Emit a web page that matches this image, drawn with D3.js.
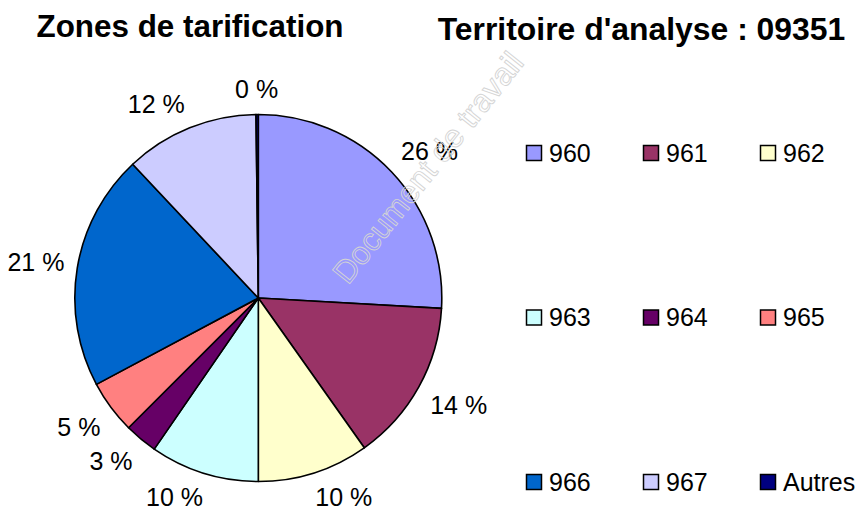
<!DOCTYPE html>
<html>
<head>
<meta charset="utf-8">
<script src="https://cdn.jsdelivr.net/npm/d3@7"></script>
<style>
    body { margin: 0; background: #fff; }
    svg { display: block; font-family: Arial, 'Liberation Sans', sans-serif; }
</style>
</head>
<body>
<script>

(function(){


// DATA

    const zones = ['960', '961', '962', '963', '964', '965', '966', '967', 'Autres'];
    const shares = [25.9, 14.3, 9.8, 9.6, 2.9, 4.7, 20.8, 11.8, 0.2];
    const colors = ['#9999ff', '#993366', '#ffffcc', '#ccffff', '#660066',
        '#ff8080', '#0066cc', '#ccccff', '#000080'];

    const titleLeft = 'Zones de tarification';
    const titleRight = "Territoire d'analyse : 09351";
    const watermark = 'Document de travail';


// LAYOUT

    const width = 860,
        height = 511,
        cx = 258.3,
        cy = 298,
        radius = 183.5,
        labelGap = 13;

    const svg = d3
        .select('body')
        .append('svg')
        .attr('width', width)
        .attr('height', height);


// TITLES

    svg.append('text')
        .attr('x', 190)
        .attr('y', 37)
        .attr('text-anchor', 'middle')
        .style('font-size', '31.4px')
        .style('font-weight', 'bold')
        .text(titleLeft);

    svg.append('text')
        .attr('x', 641.5)
        .attr('y', 40)
        .attr('text-anchor', 'middle')
        .style('font-size', '31.9px')
        .style('font-weight', 'bold')
        .text(titleRight);


// PIE

    const pie = d3.pie()
        .value(function(d){ return d; })
        .sort(null);

    const arcs = pie(shares);

    const arc = d3.arc()
        .innerRadius(0)
        .outerRadius(radius);

    const g = svg
        .append('g')
        .attr('transform', 'translate(' + cx + ',' + cy + ')');

    g.selectAll('.slice')
        .data(arcs)
        .enter()
        .append('path')
        .attr('class', 'slice')
        .attr('d', arc)
        .style('fill', function(d, i){ return colors[i]; })
        .style('stroke', '#000')
        .style('stroke-width', 1.6)
        .style('stroke-linejoin', 'round');

    // labels sit outside the rim, box pushed away from the pie
    const labels = g.selectAll('.label')
        .data(arcs)
        .enter()
        .append('text')
        .attr('class', 'label')
        .attr('text-anchor', 'middle')
        .attr('dy', '0.35em')
        .style('font-size', '25px')
        .text(function(d){ return Math.round(d.value) + ' %'; });

    labels.each(function(d){
        const a = (d.startAngle + d.endAngle) / 2,
            s = Math.sin(a),
            c = -Math.cos(a),
            r = radius + labelGap,
            w = this.getComputedTextLength(),
            h = 24,
            kx = Math.max(-1, Math.min(1, s * 3)),
            ky = Math.max(-1, Math.min(1, c * 2));
        d3.select(this)
            .attr('x', r * s + kx * w / 2)
            .attr('y', r * c + ky * h / 2);
    });


// WATERMARK

    svg.append('text')
        .attr('transform', 'translate(436.5,174.5) rotate(-51.5)')
        .attr('text-anchor', 'middle')
        .style('font-size', '32px')
        .style('fill', 'none')
        .style('stroke', '#d4d4d4')
        .style('stroke-width', 0.9)
        .text(watermark);


// LEGEND

    const col = d3.scalePoint()
        .domain([0, 1, 2])
        .range([526, 760]);

    const row = d3.scalePoint()
        .domain([0, 1, 2])
        .range([153, 482]);

    const items = svg
        .selectAll('.legend')
        .data(zones)
        .enter()
        .append('g')
        .attr('class', 'legend')
        .attr('transform', function(d, i){
            return 'translate(' + col(i % 3) + ',' + row(Math.floor(i / 3)) + ')';
        });

    items.append('rect')
        .attr('x', 0.5)
        .attr('y', -7.5)
        .attr('width', 15)
        .attr('height', 15)
        .style('fill', function(d, i){ return colors[i]; })
        .style('stroke', '#000')
        .style('stroke-width', 1.5);

    items.append('text')
        .attr('x', 23)
        .attr('y', 8.5)
        .style('font-size', '25px')
        .text(function(d){ return d; });

})();

</script>
</body>
</html>
